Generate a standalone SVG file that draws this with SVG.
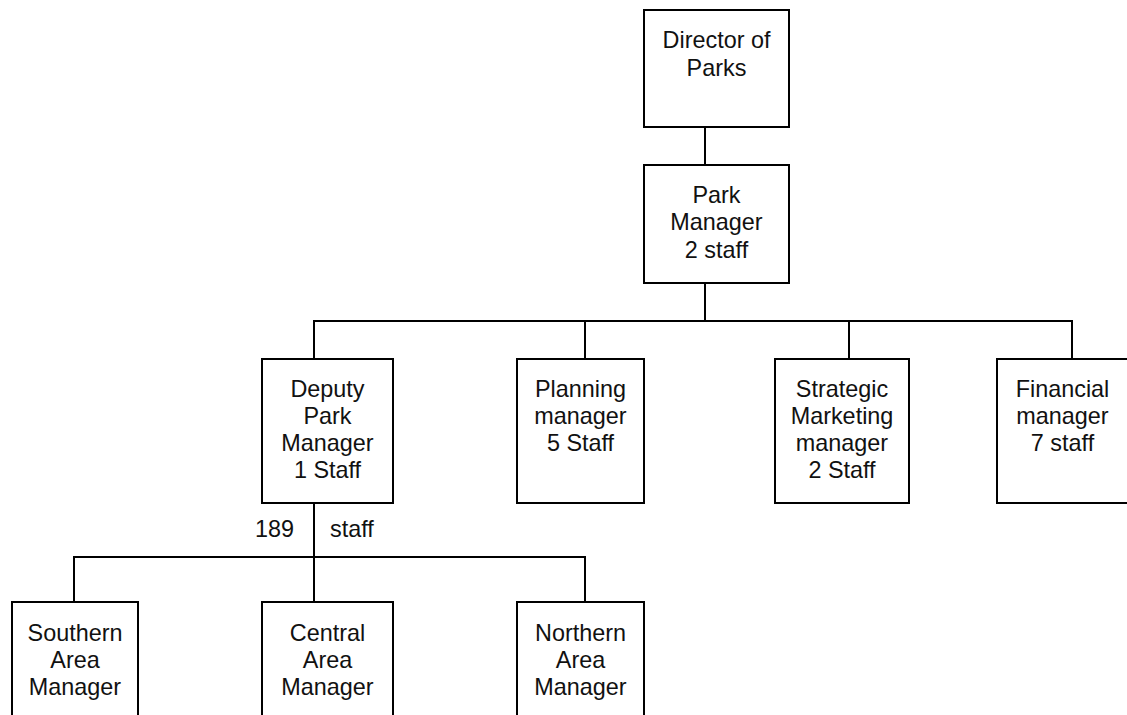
<svg xmlns="http://www.w3.org/2000/svg" width="1127" height="715" viewBox="0 0 1127 715">
  <style>
    .box { fill: #ffffff; stroke: #000000; stroke-width: 2; }
    .conn { fill: none; stroke: #000000; stroke-width: 2; }
    .lbl { font-family: "Liberation Sans", Arial, sans-serif; font-size: 23.4px; fill: #111111; text-anchor: middle; }
    .free { font-family: "Liberation Sans", Arial, sans-serif; font-size: 23.4px; fill: #111111; }
  </style>
  <rect x="0" y="0" width="1127" height="715" fill="#ffffff"/>
  <g id="connectors">
    <path class="conn" d="M705 127 V165"/>
    <path class="conn" d="M705 283 V321"/>
    <path class="conn" d="M314 359 V321 H1072 V359"/>
    <path class="conn" d="M585 321 V359"/>
    <path class="conn" d="M849 321 V359"/>
    <path class="conn" d="M314 503 V602"/>
    <path class="conn" d="M74 602 V557 H585 V602"/>
  </g>
  <g id="director">
    <rect class="box" x="644" y="10" width="145" height="117"/>
    <text class="lbl" x="716.5" y="48">Director of</text>
    <text class="lbl" x="716.5" y="76">Parks</text>
  </g>
  <g id="park-manager">
    <rect class="box" x="644" y="165" width="145" height="118"/>
    <text class="lbl" x="716.5" y="203">Park</text>
    <text class="lbl" x="716.5" y="230">Manager</text>
    <text class="lbl" x="716.5" y="258">2 staff</text>
  </g>
  <g id="deputy">
    <rect class="box" x="262" y="359" width="131" height="144"/>
    <text class="lbl" x="327.5" y="397">Deputy</text>
    <text class="lbl" x="327.5" y="424">Park</text>
    <text class="lbl" x="327.5" y="451">Manager</text>
    <text class="lbl" x="327.5" y="478">1 Staff</text>
  </g>
  <g id="planning">
    <rect class="box" x="517" y="359" width="127" height="144"/>
    <text class="lbl" x="580.5" y="397">Planning</text>
    <text class="lbl" x="580.5" y="424">manager</text>
    <text class="lbl" x="580.5" y="451">5 Staff</text>
  </g>
  <g id="strategic">
    <rect class="box" x="775" y="359" width="134" height="144"/>
    <text class="lbl" x="842" y="397">Strategic</text>
    <text class="lbl" x="842" y="424">Marketing</text>
    <text class="lbl" x="842" y="451">manager</text>
    <text class="lbl" x="842" y="478">2 Staff</text>
  </g>
  <g id="financial">
    <rect class="box" x="997" y="359" width="131" height="144"/>
    <text class="lbl" x="1062.5" y="397">Financial</text>
    <text class="lbl" x="1062.5" y="424">manager</text>
    <text class="lbl" x="1062.5" y="451">7 staff</text>
  </g>
  <g id="staff-count">
    <text class="free" x="255" y="537">189</text>
    <text class="free" x="330" y="537">staff</text>
  </g>
  <g id="southern">
    <rect class="box" x="12" y="602" width="126" height="140"/>
    <text class="lbl" x="75" y="641">Southern</text>
    <text class="lbl" x="75" y="668">Area</text>
    <text class="lbl" x="75" y="695">Manager</text>
  </g>
  <g id="central">
    <rect class="box" x="262" y="602" width="131" height="140"/>
    <text class="lbl" x="327.5" y="641">Central</text>
    <text class="lbl" x="327.5" y="668">Area</text>
    <text class="lbl" x="327.5" y="695">Manager</text>
  </g>
  <g id="northern">
    <rect class="box" x="517" y="602" width="127" height="140"/>
    <text class="lbl" x="580.5" y="641">Northern</text>
    <text class="lbl" x="580.5" y="668">Area</text>
    <text class="lbl" x="580.5" y="695">Manager</text>
  </g>
</svg>
